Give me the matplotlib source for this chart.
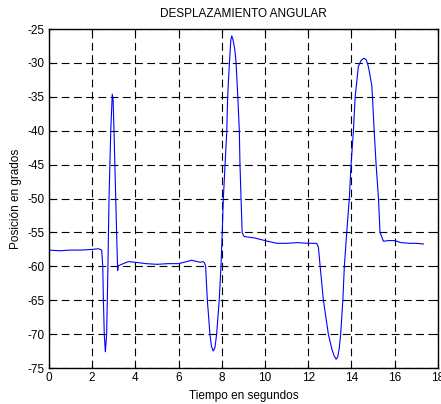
import matplotlib.pyplot as plt

plt.rcParams['font.family'] = ['Liberation Sans', 'DejaVu Sans']
plt.rcParams['axes.unicode_minus'] = False

# tiempo (s) y posicion (grados)
tiempo = [0, 0.5, 1.0, 1.5, 2.0, 2.3, 2.44, 2.49, 2.52, 2.56, 2.61, 2.67, 2.73,
          2.78, 2.86, 2.93, 2.97, 3.01, 3.09, 3.13, 3.18, 3.2, 3.22, 3.44, 3.67,
          4.0, 4.5, 5.0, 5.5, 6.0, 6.37, 6.6, 7.0, 7.13, 7.2, 7.25, 7.33, 7.45,
          7.52, 7.6, 7.68, 7.76, 7.88, 7.96, 8.02, 8.07, 8.15, 8.23, 8.27, 8.35,
          8.42, 8.46, 8.52, 8.6, 8.66, 8.74, 8.81, 8.84, 8.89, 8.94, 9.03, 9.5,
          10.0, 10.54, 11.0, 11.5, 12.0, 12.39, 12.47, 12.55, 12.7, 12.93, 13.1,
          13.2, 13.29, 13.36, 13.43, 13.5, 13.6, 13.67, 13.78, 13.9, 13.98, 14.09,
          14.17, 14.32, 14.45, 14.58, 14.68, 14.78, 14.94, 14.97, 15.05, 15.14,
          15.25, 15.32, 15.48, 15.7, 15.99, 16.3, 16.7, 17.0, 17.33]
posicion = [-57.6, -57.7, -57.6, -57.6, -57.5, -57.4, -57.6, -60, -65, -70, -72.6,
            -70, -60, -50, -40, -34.6, -35.5, -40, -50, -55, -60.6, -60.0, -59.9,
            -59.6, -59.3, -59.4, -59.6, -59.7, -59.6, -59.6, -59.3, -59.1, -59.4,
            -59.3, -59.5, -60, -65, -70, -71.8, -72.5, -72.0, -70, -65, -60, -55,
            -50, -45, -40, -35, -30, -26.5, -26, -26.6, -28, -30, -35, -40, -45,
            -50, -55, -55.6, -55.8, -56.2, -56.6, -56.6, -56.5, -56.6, -56.6,
            -57.2, -60, -65, -70, -72.3, -73.2, -73.7, -73.4, -72.2, -70, -65,
            -60, -55, -50, -45, -40, -35, -30.5, -29.6, -29.3, -29.5, -30.5, -33.3,
            -35, -40, -45, -50, -55, -56.3, -56.2, -56.2, -56.5, -56.6, -56.6,
            -56.7]

x_ticks = list(range(0, 19, 2))
y_ticks = list(range(-75, -24, 5))

fig = plt.figure(figsize=(4.41, 4.04), dpi=100)
ax = fig.add_axes([0.111, 0.089, 0.882, 0.839])
ax.plot(tiempo, posicion, color='#0000ff', linewidth=0.8)

ax.set_xlim(0, 18)
ax.set_ylim(-75, -25)
ax.set_xticks(x_ticks)
ax.set_yticks(y_ticks)
ax.grid(True, color='black', linestyle=(0, (7, 4)), linewidth=0.8)
ax.tick_params(direction='in', top=True, right=True, labelsize=8.5, length=3, pad=3)
for s in ax.spines.values():
    s.set_linewidth(1.0)

ax.set_title('DESPLAZAMIENTO ANGULAR', fontsize=8.5, pad=9)
ax.set_xlabel('Tiempo en segundos', fontsize=8.5, labelpad=4)
ax.set_ylabel('Posición en grados', fontsize=8.5, labelpad=4)

fig.savefig('out.png', dpi=100)
